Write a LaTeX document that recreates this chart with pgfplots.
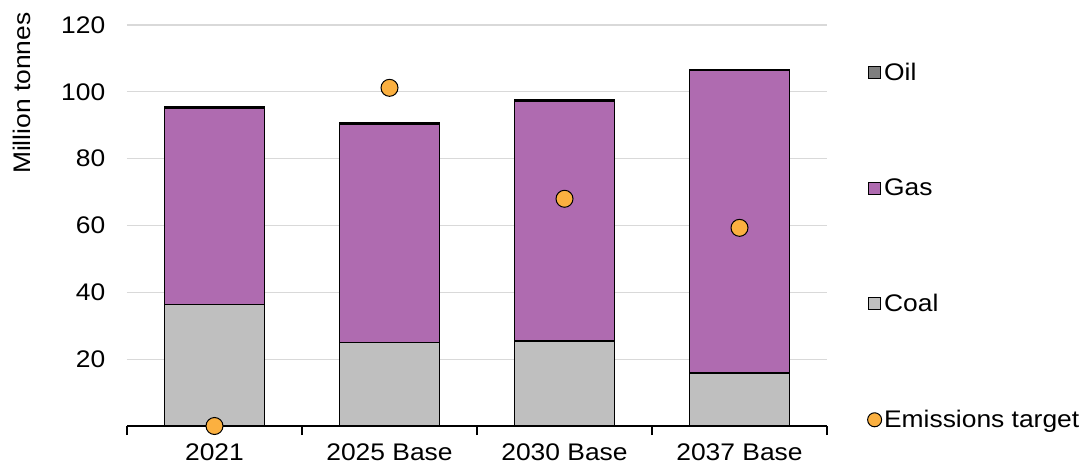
\documentclass[border=0pt]{standalone}
\usepackage{fontspec}
\setmainfont[FakeStretch=1.1]{Liberation Sans}
\usepackage{pgfplots}
\pgfplotsset{compat=1.18}
\definecolor{gaspurple}{HTML}{AF6BB0}
\definecolor{coalgray}{HTML}{BFBFBF}
\definecolor{oilgray}{HTML}{7F7F7F}
\definecolor{targetorange}{HTML}{FBB040}
\definecolor{gridgray}{HTML}{D9D9D9}

\pgfplotsset{
  base/.style={
    scale only axis, width=700pt, height=401pt,
    xmin=-0.5, xmax=3.5, ymin=0, ymax=120,
    /pgf/number format/assume math mode=true,
    tick label style={font=\fontsize{24}{28}\selectfont},
    label style={font=\fontsize{24}{28}\selectfont},
  },
  boxlegend/.style={legend image code/.code={
      \draw[#1, line width=1pt] (0pt,-6pt) rectangle (12pt,6pt);}},
}

\begin{document}
\begin{tikzpicture}
\useasboundingbox (-127pt,-41pt) rectangle (959pt,426pt);
% stacked bars: coal, gas, oil
\begin{axis}[base,
  ybar stacked, bar width=100pt,
  axis lines*=left,
  y axis line style={draw=none},
  ytick style={draw=none},
  x axis line style={black, line width=1.2pt},
  xtick={0,1,2,3},
  xticklabels={2021,2025 Base,2030 Base,2037 Base},
  major x tick style={draw=none},
  minor xtick={-0.5,0.5,1.5,2.5,3.5},
  minor x tick style={black, line width=1.2pt},
  minor tick length=9pt, tick align=outside,
  xticklabel style={yshift=-10pt},
  ytick={20,40,...,120},
  ymajorgrids, grid style={gridgray, line width=1.3pt},
  ylabel={Million tonnes},
  ylabel style={at={(axis description cs:-0.15,0.83)}, anchor=center},
  yticklabel style={xshift=-14pt},
]
\addplot[fill=coalgray, draw=black, line width=1.3pt] coordinates {(0,36.4) (1,25.0) (2,25.4) (3,15.9)};
\addplot[fill=gaspurple, draw=black, line width=1.3pt] coordinates {(0,58.6) (1,65.4) (2,71.9) (3,90.4)};
\addplot[fill=oilgray, draw=black, line width=1.3pt] coordinates {(0,0.5) (1,0.3) (2,0.3) (3,0.3)};
\end{axis}
% emissions target markers and legend
\begin{axis}[base,
  axis lines=none, clip=false,
  legend style={draw=none, fill=none, at={(1.057,0.91)}, anchor=north west,
    row sep=93pt, font=\fontsize{24}{28}\selectfont, inner sep=0pt},
  legend cell align=left,
]
\addlegendimage{boxlegend, fill=oilgray, draw=black}
\addlegendentry{Oil}
\addlegendimage{boxlegend, fill=gaspurple, draw=black}
\addlegendentry{Gas}
\addlegendimage{boxlegend, fill=coalgray, draw=black}
\addlegendentry{Coal}
\addplot[only marks, mark=*, mark size=8.5pt,
  mark options={fill=targetorange, draw=black, line width=1pt},
  legend image code/.code={\draw[fill=targetorange, draw=black, line width=1pt] (6pt,0pt) circle (7pt);}]
  coordinates {(0,0) (1,101.2) (2,68.0) (3,59.3)};
\addlegendentry{Emissions target}
\end{axis}
\end{tikzpicture}
\end{document}
